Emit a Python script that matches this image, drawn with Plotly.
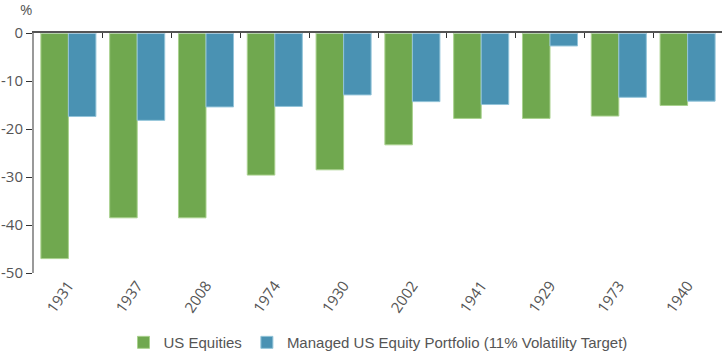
import plotly.graph_objects as go

years = ["1931", "1937", "2008", "1974", "1930", "2002", "1941", "1929", "1973", "1940"]
us_equities = [-47.0, -38.5, -38.5, -29.6, -28.5, -23.3, -17.8, -17.8, -17.3, -15.1]
managed = [-17.4, -18.2, -15.4, -15.3, -12.9, -14.3, -14.9, -2.7, -13.4, -14.2]
series_names = ["US Equities", "Managed US Equity Portfolio (11% Volatility Target)"]
y_ticks = [0, -10, -20, -30, -40, -50]

TICKFONT = "Open Sans, sans-serif"
LEGFONT = "Liberation Sans, Arial, sans-serif"
TXT = "#555555"

fig = go.Figure()
fig.add_trace(go.Bar(x=years, y=us_equities, name=series_names[0],
                     marker=dict(color="#70a84f", line=dict(color="#a9d18e", width=1))))
fig.add_trace(go.Bar(x=years, y=managed, name=series_names[1],
                     marker=dict(color="#4a92b3", line=dict(color="#93c4d9", width=1))))
# invisible trace on top x-axis to carry boundary ticks at zero line
fig.add_trace(go.Bar(x=years, y=[0]*len(years), xaxis="x2", showlegend=False,
                     hoverinfo="skip", marker=dict(color="rgba(0,0,0,0)")))

fig.update_layout(
    width=724, height=356,
    margin=dict(l=34, r=2, t=33, b=83, autoexpand=False),
    paper_bgcolor="white", plot_bgcolor="white",
    barmode="group", bargap=0.2, bargroupgap=0,
    font=dict(family=TICKFONT, size=15, color=TXT),
    showlegend=True,
    legend=dict(orientation="h", x=0.5, xanchor="center", y=-0.29, yanchor="middle",
                font=dict(family=LEGFONT, size=15, color=TXT), itemwidth=30,
                traceorder="normal"),
    xaxis=dict(type="category", showline=False, ticks="", tickangle=-55,
               tickfont=dict(family=TICKFONT, size=15, color=TXT), showgrid=False,
               zeroline=False, automargin=False),
    xaxis2=dict(type="category", overlaying="x", side="top", matches="x",
                showline=True, linecolor="#555555", linewidth=2,
                ticks="inside", ticklen=5, tickwidth=1, tickcolor="#333333",
                tickson="boundaries", showticklabels=False, showgrid=False,
                automargin=False),
    yaxis=dict(range=[-50, 0], tickvals=y_ticks, ticktext=[str(v) for v in y_ticks],
               showline=True, linecolor="#999999", linewidth=2,
               ticks="outside", ticklen=6, tickcolor="#333333", tickwidth=1,
               showgrid=False, zeroline=False, automargin=False,
               tickfont=dict(family=TICKFONT, size=15, color=TXT)),
    annotations=[dict(text="%", xref="paper", yref="paper", x=-0.011, y=1.0,
                      xanchor="center", yanchor="middle", yshift=24, showarrow=False,
                      font=dict(family=TICKFONT, size=15, color=TXT))],
)

fig.write_html("out.html", config={"displayModeBar": False},
               post_script="document.body.style.margin='0';")
